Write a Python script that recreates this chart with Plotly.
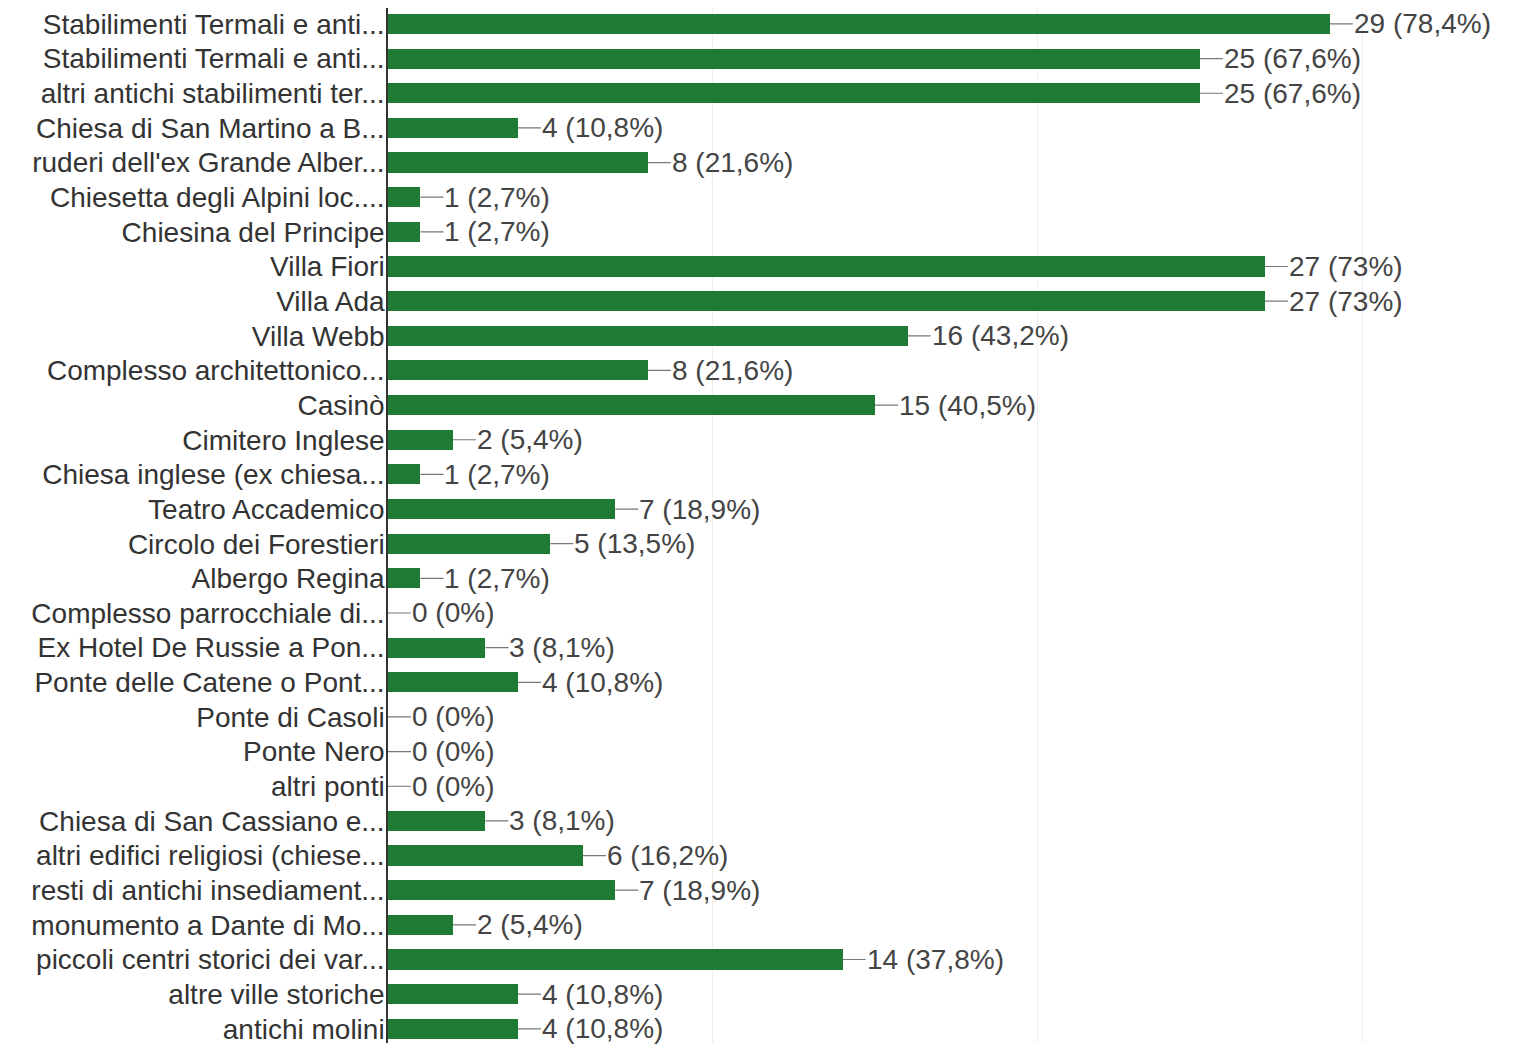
import plotly.graph_objects as go

categories = [
    "Stabilimenti Termali e anti...",
    "Stabilimenti Termali e anti...",
    "altri antichi stabilimenti ter...",
    "Chiesa di San Martino a B...",
    "ruderi dell'ex Grande Alber...",
    "Chiesetta degli Alpini loc....",
    "Chiesina del Principe",
    "Villa Fiori",
    "Villa Ada",
    "Villa Webb",
    "Complesso architettonico...",
    "Casinò",
    "Cimitero Inglese",
    "Chiesa inglese (ex chiesa...",
    "Teatro Accademico",
    "Circolo dei Forestieri",
    "Albergo Regina",
    "Complesso parrocchiale di...",
    "Ex Hotel De Russie a Pon...",
    "Ponte delle Catene o Pont...",
    "Ponte di Casoli",
    "Ponte Nero",
    "altri ponti",
    "Chiesa di San Cassiano e...",
    "altri edifici religiosi (chiese...",
    "resti di antichi insediament...",
    "monumento a Dante di Mo...",
    "piccoli centri storici dei var...",
    "altre ville storiche",
    "antichi molini",
]
counts = [29, 25, 25, 4, 8, 1, 1, 27, 27, 16, 8, 15, 2, 1, 7, 5, 1, 0, 3, 4,
          0, 0, 0, 3, 6, 7, 2, 14, 4, 4]
percents = ["78,4", "67,6", "67,6", "10,8", "21,6", "2,7", "2,7", "73", "73",
            "43,2", "21,6", "40,5", "5,4", "2,7", "18,9", "13,5", "2,7", "0",
            "8,1", "10,8", "0", "0", "0", "8,1", "16,2", "18,9", "5,4", "37,8",
            "10,8", "10,8"]

positions = list(range(len(categories)))
labels = [f"{c} ({p}%)" for c, p in zip(counts, percents)]

FONT = "Liberation Sans, Arial, sans-serif"

fig = go.Figure()
fig.add_trace(go.Bar(
    x=counts,
    y=positions,
    orientation="h",
    width=0.58,
    marker=dict(color="#1f7a34", line=dict(width=0)),
    hoverinfo="skip",
))

for c, pos, lab in zip(counts, positions, labels):
    fig.add_annotation(
        x=c, y=pos, xref="x", yref="y",
        text=lab,
        showarrow=True, arrowhead=0, arrowwidth=1.2, arrowcolor="#777777",
        ax=23, ay=0, xanchor="left", yanchor="middle",
        borderpad=0,
        font=dict(family=FONT, size=28, color="#444444"),
    )

# right gray frame edge
fig.add_shape(type="rect", xref="paper", yref="paper",
              x0=0.9985, x1=1.0045, y0=0, y1=1,
              fillcolor="#b8b8b8", line=dict(width=0), layer="above")

fig.update_layout(
    width=1507, height=1037,
    margin=dict(l=380, r=5, t=0, b=0),
    paper_bgcolor="white",
    plot_bgcolor="white",
    showlegend=False,
    bargap=0,
    font=dict(family=FONT, size=28, color="#333333"),
)
fig.update_xaxes(
    range=[0, 34.55],
    dtick=10,
    showgrid=True, gridcolor="#ededed", gridwidth=1,
    showticklabels=False,
    zeroline=False,
    showline=False,
    fixedrange=True,
)
fig.update_yaxes(
    tickmode="array",
    tickvals=positions,
    ticktext=categories,
    range=[29.41, -0.46],
    showgrid=False,
    zeroline=False,
    showline=True, linecolor="#333333", linewidth=1.5,
    ticks="",
    ticklabelstandoff=-4,
    ticklabeloverflow="allow",
    tickfont=dict(family=FONT, size=28, color="#333333"),
    fixedrange=True,
)

fig.write_html("out.html")
